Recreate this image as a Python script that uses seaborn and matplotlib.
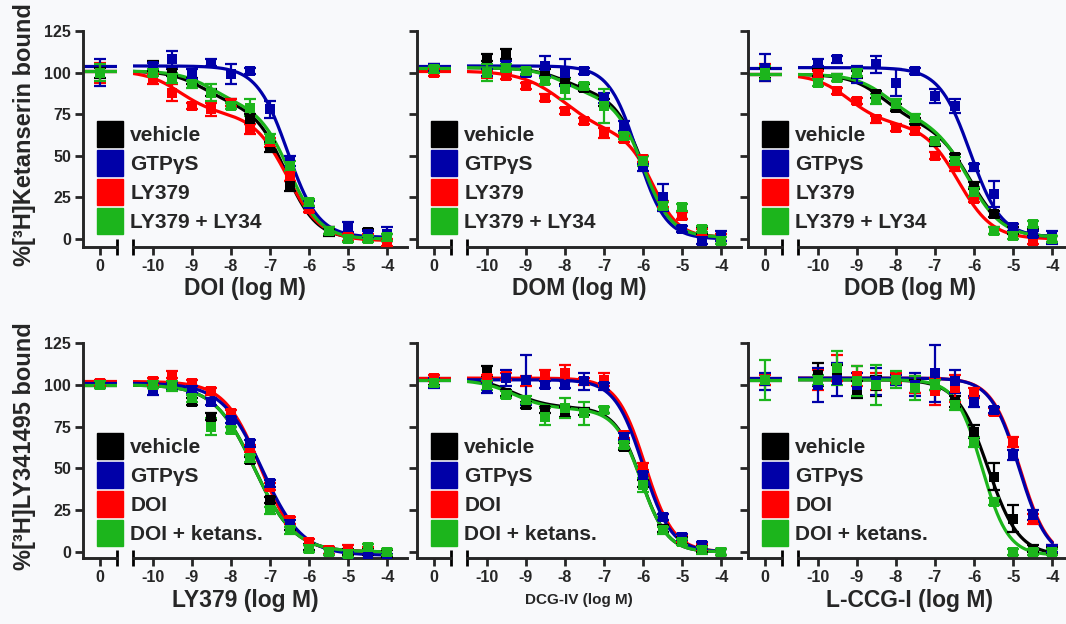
import numpy as np
import pandas as pd
import matplotlib
matplotlib.use('Agg')
import matplotlib.pyplot as plt
import seaborn as sns
from matplotlib.lines import Line2D

# log concentrations (the control point "0" is kept apart, first entry of each list)
conc = [-10, -9.5, -9, -8.5, -8, -7.5, -7, -6.5, -6, -5.5, -5, -4.5, -4]
conc_ticks = [-10, -9, -8, -7, -6, -5, -4]

# ---- [3H]Ketanserin, DOI ----
doi_vehicle = [100, 104, 100, 95, 88, 82, 72, 55, 32, 18, 4, 1, 4, 1]
doi_vehicle_sem = [3, 3, 2, 2, 2, 2, 3, 3, 3, 2, 2, 2, 2, 2]
doi_gtp = [100, 104, 108, 99, 106, 99, 101, 78, 47, 21, 5, 7, 3, 3]
doi_gtp_sem = [8, 2, 5, 3, 2, 6, 2, 5, 3, 2, 2, 3, 2, 4]
doi_ly379 = [100, 96, 88, 80, 78, 82, 66, 58, 38, 18, 5, 1, 1, -2]
doi_ly379_sem = [6, 3, 5, 2, 4, 2, 3, 3, 3, 2, 2, 2, 2, 2]
doi_ly34 = [100, 100, 97, 93, 88, 80, 79, 60, 44, 22, 5, 0, 0, 1]
doi_ly34_sem = [5, 2, 3, 2, 5, 2, 5, 3, 3, 2, 2, 2, 2, 2]

# ---- [3H]Ketanserin, DOM ----
dom_vehicle = [103, 109, 111, 100, 100, 95, 91, 82, 62, 48, 20, 14, 5, 1]
dom_vehicle_sem = [2, 2, 3, 2, 2, 2, 2, 2, 2, 2, 2, 2, 2, 2]
dom_gtp = [103, 100, 104, 100, 104, 100, 101, 85, 68, 43, 25, 6, -1, 2]
dom_gtp_sem = [2, 2, 3, 2, 6, 8, 2, 3, 3, 2, 8, 2, 2, 3]
dom_ly379 = [100, 99, 98, 92, 85, 77, 71, 64, 60, 48, 21, 14, 4, 1]
dom_ly379_sem = [2, 2, 2, 2, 2, 2, 2, 3, 2, 2, 2, 2, 2, 2]
dom_ly34 = [102, 100, 103, 101, 95, 90, 92, 80, 62, 47, 20, 19, 6, -1]
dom_ly34_sem = [2, 5, 2, 2, 2, 6, 2, 10, 2, 3, 2, 2, 2, 2]

# ---- [3H]Ketanserin, DOB ----
dob_vehicle = [100, 100, 97, 99, 87, 79, 71, 58, 49, 32, 15, 5, 4, 0]
dob_vehicle_sem = [3, 2, 2, 2, 2, 2, 2, 2, 2, 2, 2, 2, 2, 2]
dob_gtp = [103, 106, 108, 99, 105, 94, 101, 86, 80, 43, 27, 7, 3, 1]
dob_gtp_sem = [8, 2, 2, 5, 5, 8, 2, 4, 4, 2, 8, 2, 2, 4]
dob_ly379 = [100, 99, 89, 83, 72, 67, 65, 50, 43, 24, 5, 7, -1, 0]
dob_ly379_sem = [5, 2, 2, 2, 2, 2, 2, 2, 2, 2, 2, 2, 2, 2]
dob_ly34 = [100, 94, 97, 100, 84, 81, 73, 59, 47, 28, 5, 2, 9, 0]
dob_ly34_sem = [4, 2, 2, 2, 3, 3, 2, 2, 2, 3, 2, 2, 2, 2]

# ---- [3H]LY341495, LY379 ----
ly_vehicle = [100, 100, 99, 90, 81, 73, 55, 31, 15, 3, 1, 0, 0, -1]
ly_vehicle_sem = [2, 2, 2, 2, 2, 2, 2, 2, 2, 2, 2, 2, 2, 2]
ly_gtp = [100, 96, 99, 97, 90, 79, 65, 41, 17, 2, 0, -2, -3, -3]
ly_gtp_sem = [2, 2, 2, 2, 2, 2, 2, 2, 2, 2, 2, 2, 2, 2]
ly_doi = [101, 102, 106, 101, 96, 83, 62, 39, 19, 6, 1, 2, 1, 0]
ly_doi_sem = [2, 2, 2, 2, 2, 2, 2, 2, 2, 2, 2, 2, 2, 2]
ly_ket = [100, 100, 99, 92, 75, 73, 56, 25, 13, 2, 0, -1, 3, 0]
ly_ket_sem = [2, 2, 3, 2, 5, 2, 2, 2, 2, 2, 2, 2, 2, 2]

# ---- [3H]LY341495, DCG-IV ----
dcg_vehicle = [102, 108, 95, 88, 85, 84, 84, 85, 63, 41, 14, 7, 2, 0]
dcg_vehicle_sem = [2, 3, 2, 2, 2, 3, 2, 2, 2, 2, 2, 2, 2, 2]
dcg_gtp = [101, 98, 104, 103, 100, 100, 102, 99, 69, 46, 21, 9, 4, 0]
dcg_gtp_sem = [3, 3, 5, 15, 2, 2, 5, 2, 2, 2, 2, 2, 2, 2]
dcg_doi = [104, 104, 105, 102, 106, 107, 102, 103, 70, 51, 21, 8, 3, 0]
dcg_doi_sem = [2, 2, 2, 3, 3, 5, 2, 4, 2, 2, 2, 2, 2, 2]
dcg_ket = [101, 100, 94, 91, 81, 86, 83, 85, 64, 40, 13, 6, 1, 0]
dcg_ket_sem = [2, 3, 2, 2, 5, 6, 7, 2, 2, 4, 2, 2, 2, 2]

# ---- [3H]LY341495, L-CCG-I ----
ccg_vehicle = [103, 106, 107, 97, 99, 103, 99, 100, 90, 72, 45, 20, 2, 1]
ccg_vehicle_sem = [3, 7, 5, 5, 6, 3, 4, 3, 3, 4, 8, 8, 2, 2]
ccg_gtp = [102, 100, 103, 100, 102, 103, 100, 107, 102, 90, 85, 58, 22, 2]
ccg_gtp_sem = [5, 10, 10, 7, 8, 3, 7, 17, 7, 3, 2, 3, 3, 2]
ccg_doi = [103, 103, 110, 105, 102, 104, 100, 96, 98, 95, 84, 66, 20, 2]
ccg_doi_sem = [3, 6, 8, 6, 5, 3, 5, 8, 8, 3, 2, 3, 3, 2]
ccg_ket = [103, 103, 110, 102, 100, 103, 98, 100, 88, 66, 30, 0, 0, 0]
ccg_ket_sem = [12, 3, 10, 9, 12, 5, 7, 3, 3, 3, 2, 2, 2, 2]

# fitted curves: top, bottom, high-site fraction, logIC50 hi, slope hi, logIC50 lo, slope lo
doi_vehicle_fit = [101, 0, 0.20, -8.7, 1.0, -6.6, 1.1]
doi_gtp_fit = [104, 1, 0.0, -8.0, 1.0, -6.55, 1.1]
doi_ly379_fit = [101, -1, 0.25, -9.3, 1.0, -6.55, 1.0]
doi_ly34_fit = [101, 0, 0.20, -8.5, 1.0, -6.5, 1.1]
dom_vehicle_fit = [103, 1, 0.15, -8.0, 1.0, -6.0, 1.2]
dom_gtp_fit = [104, 0, 0.0, -8.0, 1.0, -6.15, 1.2]
dom_ly379_fit = [101, 1, 0.38, -8.0, 0.8, -5.75, 1.3]
dom_ly34_fit = [103, 1, 0.17, -8.0, 1.0, -6.0, 1.2]
dob_vehicle_fit = [99, 1, 0.30, -8.3, 1.0, -6.1, 1.0]
dob_gtp_fit = [103, 1, 0.0, -8.0, 1.0, -6.1, 1.1]
dob_ly379_fit = [99, 0, 0.30, -9.2, 1.0, -6.4, 1.0]
dob_ly34_fit = [99, 1, 0.28, -8.2, 1.0, -6.15, 1.0]
ly_vehicle_fit = [100, 0, 0.0, -8.0, 1.0, -7.4, 0.85]
ly_gtp_fit = [101, -2, 0.0, -8.0, 1.0, -7.2, 0.85]
ly_doi_fit = [102, 0, 0.0, -8.0, 1.0, -7.25, 0.95]
ly_ket_fit = [100, 0, 0.0, -8.0, 1.0, -7.4, 0.85]
dcg_vehicle_fit = [104, 0, 0.17, -9.3, 1.0, -6.05, 1.3]
dcg_gtp_fit = [103, 0, 0.0, -8.0, 1.0, -6.0, 1.2]
dcg_doi_fit = [104, 0, 0.0, -8.0, 1.0, -5.95, 1.2]
dcg_ket_fit = [103, 0, 0.17, -9.3, 1.0, -6.05, 1.3]
ccg_vehicle_fit = [103, -2, 0.0, -8.0, 1.0, -5.65, 1.1]
ccg_gtp_fit = [104, -4, 0.0, -8.0, 1.0, -4.85, 1.2]
ccg_doi_fit = [104, -4, 0.0, -8.0, 1.0, -4.83, 1.2]
ccg_ket_fit = [103, -2, 0.0, -8.0, 1.0, -5.8, 1.3]

top_labels = ['vehicle', 'GTP\u03b3S', 'LY379', 'LY379 + LY34']
bottom_labels = ['vehicle', 'GTP\u03b3S', 'DOI', 'DOI + ketans.']
colors = ['#000000', '#0000a8', '#ff0000', '#1cb51c']
xlabels = ['DOI (log M)', 'DOM (log M)', 'DOB (log M)',
           'LY379 (log M)', 'DCG-IV (log M)', 'L-CCG-I (log M)']
ylabels = ['%[\u00b3H]Ketanserin bound', '%[\u00b3H]LY341495 bound']

panels = [
    [(doi_vehicle, doi_vehicle_sem, doi_vehicle_fit), (doi_gtp, doi_gtp_sem, doi_gtp_fit),
     (doi_ly379, doi_ly379_sem, doi_ly379_fit), (doi_ly34, doi_ly34_sem, doi_ly34_fit)],
    [(dom_vehicle, dom_vehicle_sem, dom_vehicle_fit), (dom_gtp, dom_gtp_sem, dom_gtp_fit),
     (dom_ly379, dom_ly379_sem, dom_ly379_fit), (dom_ly34, dom_ly34_sem, dom_ly34_fit)],
    [(dob_vehicle, dob_vehicle_sem, dob_vehicle_fit), (dob_gtp, dob_gtp_sem, dob_gtp_fit),
     (dob_ly379, dob_ly379_sem, dob_ly379_fit), (dob_ly34, dob_ly34_sem, dob_ly34_fit)],
    [(ly_vehicle, ly_vehicle_sem, ly_vehicle_fit), (ly_gtp, ly_gtp_sem, ly_gtp_fit),
     (ly_doi, ly_doi_sem, ly_doi_fit), (ly_ket, ly_ket_sem, ly_ket_fit)],
    [(dcg_vehicle, dcg_vehicle_sem, dcg_vehicle_fit), (dcg_gtp, dcg_gtp_sem, dcg_gtp_fit),
     (dcg_doi, dcg_doi_sem, dcg_doi_fit), (dcg_ket, dcg_ket_sem, dcg_ket_fit)],
    [(ccg_vehicle, ccg_vehicle_sem, ccg_vehicle_fit), (ccg_gtp, ccg_gtp_sem, ccg_gtp_fit),
     (ccg_doi, ccg_doi_sem, ccg_doi_fit), (ccg_ket, ccg_ket_sem, ccg_ket_fit)],
]


def model(x, p):
    top, bottom, frac, lhi, nhi, llo, nlo = p
    x = np.asarray(x, float)
    hi = frac / (1 + 10 ** ((x - lhi) * nhi))
    lo = (1 - frac) / (1 + 10 ** ((x - llo) * nlo))
    return bottom + (top - bottom) * (hi + lo)


sns.set_style('ticks')
plt.rcParams['font.family'] = ['Liberation Sans', 'DejaVu Sans']
plt.rcParams['font.weight'] = 'bold'
plt.rcParams['axes.unicode_minus'] = False

W, H = 1066, 624
bg = '#f8f9fb'
fig = plt.figure(figsize=(W / 100, H / 100), dpi=100, facecolor=bg)


def px_axes(x0, x1, ytop, ybot):
    ax = fig.add_axes([x0 / W, (H - ybot) / H, (x1 - x0) / W, (ybot - ytop) / H])
    ax.set_facecolor('none')
    return ax


col_left = [83, 417, 748]
rows = [(31, 247, -4.8), (343, 558, -3.6)]
order = [0, 2, 1, 3]
xfit = np.linspace(-10.5, -4, 300)

for k, series in enumerate(panels):
    r, c = divmod(k, 3)
    x0 = col_left[c]
    ytop, ybot, ymin = rows[r]
    axL = px_axes(x0, x0 + 34, ytop, ybot)
    axR = px_axes(x0 + 50, x0 + 324, ytop, ybot)

    for i in order:
        vals, sem, fit = series[i]
        col = colors[i]
        # control segment
        axL.plot([-0.5, 0.5], model([-30, -30], fit), color=col, lw=2.3, zorder=2)
        axL.errorbar([0], [vals[0]], yerr=[sem[0]], fmt='none', ecolor=col,
                     elinewidth=1.6, capsize=4.5, capthick=1.6, zorder=3)
        sns.scatterplot(x=[0], y=[vals[0]], marker='s', s=60, color=col,
                        edgecolor=col, linewidth=0, ax=axL, zorder=4, legend=False)
        # concentration segment
        sns.lineplot(x=xfit, y=model(xfit, fit), color=col, lw=2.3, ax=axR, zorder=2)
        axR.errorbar(conc, vals[1:], yerr=sem[1:], fmt='none', ecolor=col,
                     elinewidth=1.6, capsize=4.5, capthick=1.6, zorder=3)
        df = pd.DataFrame({'x': conc, 'y': vals[1:]})
        sns.scatterplot(data=df, x='x', y='y', marker='s', s=60, color=col,
                        edgecolor=col, linewidth=0, ax=axR, zorder=4, legend=False)

    for ax in (axL, axR):
        ax.set_ylim(ymin, 125)
        ax.set_xlabel('')
        ax.set_ylabel('')
        for s in ('top', 'right'):
            ax.spines[s].set_visible(False)
        ax.spines['bottom'].set_linewidth(2.1)
        ax.tick_params(axis='both', direction='out', length=5.5, width=2,
                       labelsize=11.5, pad=3)
    axL.spines['left'].set_linewidth(2.1)
    axR.spines['left'].set_visible(False)
    axL.set_xlim(-0.45, 0.45)
    axR.set_xlim(-10.5, -3.5)
    axL.set_xticks([0])
    axL.set_xticklabels(['0'])
    axR.set_xticks(conc_ticks)
    axR.set_xticklabels([str(t) for t in conc_ticks])
    axL.set_yticks([0, 25, 50, 75, 100, 125])
    if c == 0:
        axL.set_yticklabels(['0', '25', '50', '75', '100', '125'])
    else:
        axL.set_yticklabels([])
    axR.tick_params(axis='y', left=False, labelleft=False)
    for lab in axL.get_xticklabels() + axR.get_xticklabels() + axL.get_yticklabels():
        lab.set_fontweight('bold')

    # axis break marks
    axL.plot([1], [0], marker='|', ms=11, mew=2, color='k',
             transform=axL.transAxes, clip_on=False)
    axR.plot([0], [0], marker='|', ms=11, mew=2, color='k',
             transform=axR.transAxes, clip_on=False)

    # labels
    fs = 11 if xlabels[k].startswith('DCG') else 16.5
    fig.text((x0 + 162) / W, 1 - (ybot + 42) / H, xlabels[k], ha='center',
             va='center', fontsize=fs, fontweight='bold')
    if c == 0:
        fig.text(25 / W, 1 - ((ytop + ybot) / 2 - 4) / H, ylabels[r], rotation=90,
                 ha='center', va='center', fontsize=17, fontweight='bold')

    labels = top_labels if r == 0 else bottom_labels
    handles = [Line2D([], [], marker='s', ls='none', ms=19, color=colors[i],
                      label=labels[i]) for i in range(4)]
    leg = fig.legend(handles=handles, loc='upper left', frameon=False,
                     bbox_to_anchor=((x0 + 13) / W, 1 - (ytop + 95) / H),
                     bbox_transform=fig.transFigure, fontsize=15,
                     handlelength=1.3, handletextpad=0.35, labelspacing=0.48,
                     borderpad=0, borderaxespad=0)
    for t in leg.get_texts():
        t.set_fontweight('bold')

fig.savefig('out.png', dpi=100, facecolor=bg)
